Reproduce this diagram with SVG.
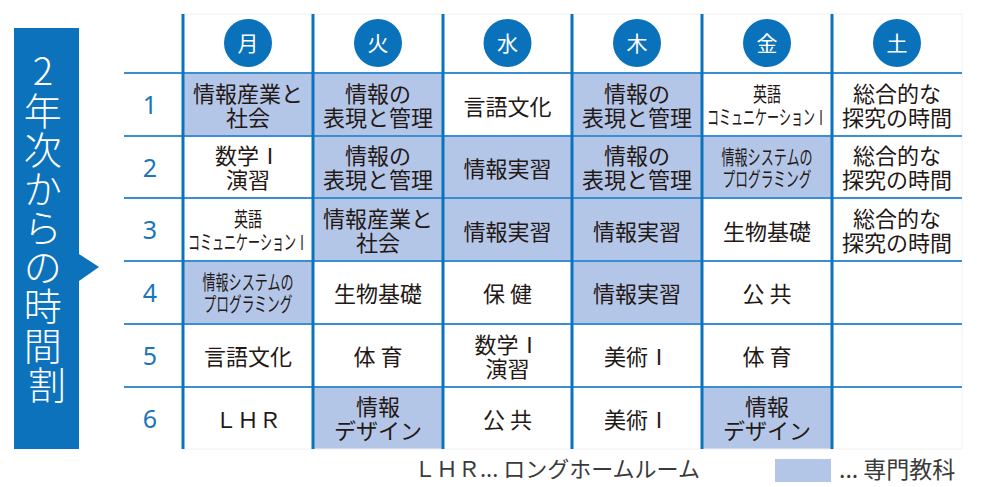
<svg xmlns="http://www.w3.org/2000/svg" width="984" height="487" viewBox="0 0 984 487">
<style>
text { font-family: "Noto Sans CJK JP", "Noto Sans", sans-serif; }
.t { font-size: 22px; fill: #231815; text-anchor: middle; }
.s { font-size: 20.5px; fill: #231815; text-anchor: middle; }
.num { font-family: "Noto Sans", "Open Sans", sans-serif; font-size: 25px; fill: #1a75bc; text-anchor: middle; }
.day { font-size: 21px; fill: #ffffff; text-anchor: middle; }
.circ { fill: #0a71bb; }
.shade { fill: #b4c6e7; }
.hl { stroke: #3a8fd3; stroke-width: 2; }
.vl { stroke: #0b73be; stroke-width: 3; }
.title { font-size: 38px; fill: #ffffff; text-anchor: middle; font-weight: 300; }
.leg { font-size: 22px; fill: #3a3a3a; }
</style>

<g id="title">
  <rect x="14" y="28" width="65" height="421" fill="#0b72bb"/>
  <polygon points="79,254 99,267 79,281" fill="#0b72bb"/>
  <text class="title">
    <tspan x="47" y="85">2</tspan>
    <tspan x="47" y="125">年</tspan>
    <tspan x="47" y="164">次</tspan>
    <tspan x="47" y="203">か</tspan>
    <tspan x="47" y="242">ら</tspan>
    <tspan x="47" y="281">の</tspan>
    <tspan x="47" y="320">時</tspan>
    <tspan x="47" y="360">間</tspan>
    <tspan x="47" y="399">割</tspan>
  </text>
</g>

<g id="shading">
  <rect class="shade" x="183" y="73" width="130" height="63"/>
  <rect class="shade" x="313" y="73" width="130" height="63"/>
  <rect class="shade" x="572" y="73" width="130" height="63"/>
  <rect class="shade" x="313" y="136" width="130" height="62"/>
  <rect class="shade" x="443" y="136" width="129" height="62"/>
  <rect class="shade" x="572" y="136" width="130" height="62"/>
  <rect class="shade" x="702" y="136" width="130" height="62"/>
  <rect class="shade" x="313" y="198" width="130" height="63"/>
  <rect class="shade" x="443" y="198" width="129" height="63"/>
  <rect class="shade" x="572" y="198" width="130" height="63"/>
  <rect class="shade" x="183" y="261" width="130" height="63"/>
  <rect class="shade" x="572" y="261" width="130" height="63"/>
  <rect class="shade" x="313" y="387" width="130" height="62"/>
  <rect class="shade" x="702" y="387" width="130" height="62"/>
</g>

<g id="grid">
  <rect x="183" y="14" width="779" height="435" fill="none" stroke="#f0f0f0" stroke-width="1"/>
  <line class="hl" x1="124" y1="73" x2="962" y2="73"/>
  <line class="hl" x1="124" y1="136" x2="962" y2="136"/>
  <line class="hl" x1="124" y1="198" x2="962" y2="198"/>
  <line class="hl" x1="124" y1="261" x2="962" y2="261"/>
  <line class="hl" x1="124" y1="324" x2="962" y2="324"/>
  <line class="hl" x1="124" y1="387" x2="962" y2="387"/>
  <line class="vl" x1="183" y1="14" x2="183" y2="449"/>
  <line class="vl" x1="313" y1="14" x2="313" y2="449"/>
  <line class="vl" x1="443" y1="14" x2="443" y2="449"/>
  <line class="vl" x1="572" y1="14" x2="572" y2="449"/>
  <line class="vl" x1="702" y1="14" x2="702" y2="449"/>
  <line class="vl" x1="832" y1="14" x2="832" y2="449"/>
</g>

<g id="days">
  <g id="day-mon"><circle class="circ" cx="248" cy="43" r="24"/><text class="day" x="248" y="51">月</text></g>
  <g id="day-tue"><circle class="circ" cx="378" cy="43" r="24"/><text class="day" x="378" y="51">火</text></g>
  <g id="day-wed"><circle class="circ" cx="507.5" cy="43" r="24"/><text class="day" x="507.5" y="51">水</text></g>
  <g id="day-thu"><circle class="circ" cx="637" cy="43" r="24"/><text class="day" x="637" y="51">木</text></g>
  <g id="day-fri"><circle class="circ" cx="767" cy="43" r="24"/><text class="day" x="767" y="51">金</text></g>
  <g id="day-sat"><circle class="circ" cx="897" cy="43" r="24"/><text class="day" x="897" y="51">土</text></g>
</g>

<g id="periods">
  <text class="num" x="150" y="114">1</text>
  <text class="num" x="150" y="177">2</text>
  <text class="num" x="150" y="239">3</text>
  <text class="num" x="150" y="302">4</text>
  <text class="num" x="150" y="365">5</text>
  <text class="num" x="150" y="428">6</text>
</g>

<g id="row1">
  <g id="r1-mon"><text class="t"><tspan x="248" y="101.5">情報産業と</tspan><tspan x="248" y="125.5">社会</tspan></text></g>
  <g id="r1-tue"><text class="t"><tspan x="378" y="101.5">情報の</tspan><tspan x="378" y="125.5">表現と管理</tspan></text></g>
  <g id="r1-wed"><text class="t" x="507.5" y="114.5">言語文化</text></g>
  <g id="r1-thu"><text class="t"><tspan x="637" y="101.5">情報の</tspan><tspan x="637" y="125.5">表現と管理</tspan></text></g>
  <g id="r1-fri"><text class="s"><tspan x="767" y="101.5" textLength="28" lengthAdjust="spacingAndGlyphs">英語</tspan><tspan x="767" y="124.5" textLength="120" lengthAdjust="spacingAndGlyphs">コミュニケーションⅠ</tspan></text></g>
  <g id="r1-sat"><text class="t"><tspan x="897" y="101.5">総合的な</tspan><tspan x="897" y="125.5">探究の時間</tspan></text></g>
</g>

<g id="row2">
  <g id="r2-mon"><text class="t"><tspan x="248" y="164">数学Ⅰ</tspan><tspan x="248" y="188">演習</tspan></text></g>
  <g id="r2-tue"><text class="t"><tspan x="378" y="164">情報の</tspan><tspan x="378" y="188">表現と管理</tspan></text></g>
  <g id="r2-wed"><text class="t" x="507.5" y="177">情報実習</text></g>
  <g id="r2-thu"><text class="t"><tspan x="637" y="164">情報の</tspan><tspan x="637" y="188">表現と管理</tspan></text></g>
  <g id="r2-fri"><text class="s"><tspan x="767" y="164.5" textLength="91" lengthAdjust="spacingAndGlyphs">情報システムの</tspan><tspan x="767" y="186.5" textLength="89" lengthAdjust="spacingAndGlyphs">プログラミング</tspan></text></g>
  <g id="r2-sat"><text class="t"><tspan x="897" y="164">総合的な</tspan><tspan x="897" y="188">探究の時間</tspan></text></g>
</g>

<g id="row3">
  <g id="r3-mon"><text class="s"><tspan x="248" y="226.5" textLength="28" lengthAdjust="spacingAndGlyphs">英語</tspan><tspan x="248" y="249.5" textLength="120" lengthAdjust="spacingAndGlyphs">コミュニケーションⅠ</tspan></text></g>
  <g id="r3-tue"><text class="t"><tspan x="378" y="226.5">情報産業と</tspan><tspan x="378" y="250.5">社会</tspan></text></g>
  <g id="r3-wed"><text class="t" x="507.5" y="239.5">情報実習</text></g>
  <g id="r3-thu"><text class="t" x="637" y="239.5">情報実習</text></g>
  <g id="r3-fri"><text class="t" x="767" y="239.5">生物基礎</text></g>
  <g id="r3-sat"><text class="t"><tspan x="897" y="226.5">総合的な</tspan><tspan x="897" y="250.5">探究の時間</tspan></text></g>
</g>

<g id="row4">
  <g id="r4-mon"><text class="s"><tspan x="248" y="290" textLength="91" lengthAdjust="spacingAndGlyphs">情報システムの</tspan><tspan x="248" y="312" textLength="89" lengthAdjust="spacingAndGlyphs">プログラミング</tspan></text></g>
  <g id="r4-tue"><text class="t" x="378" y="302">生物基礎</text></g>
  <g id="r4-wed"><text class="t" x="507.5" y="302">保 健</text></g>
  <g id="r4-thu"><text class="t" x="637" y="302">情報実習</text></g>
  <g id="r4-fri"><text class="t" x="767" y="302">公 共</text></g>
</g>

<g id="row5">
  <g id="r5-mon"><text class="t" x="248" y="365">言語文化</text></g>
  <g id="r5-tue"><text class="t" x="378" y="365">体 育</text></g>
  <g id="r5-wed"><text class="t"><tspan x="507.5" y="353">数学Ⅰ</tspan><tspan x="507.5" y="376.5">演習</tspan></text></g>
  <g id="r5-thu"><text class="t" x="637" y="365">美術Ⅰ</text></g>
  <g id="r5-fri"><text class="t" x="767" y="365">体 育</text></g>
</g>

<g id="row6">
  <g id="r6-mon"><text class="t" x="248" y="428">ＬＨＲ</text></g>
  <g id="r6-tue"><text class="t"><tspan x="378" y="415">情報</tspan><tspan x="378" y="439">デザイン</tspan></text></g>
  <g id="r6-wed"><text class="t" x="507.5" y="428">公 共</text></g>
  <g id="r6-thu"><text class="t" x="637" y="428">美術Ⅰ</text></g>
  <g id="r6-fri"><text class="t"><tspan x="767" y="415">情報</tspan><tspan x="767" y="439">デザイン</tspan></text></g>
</g>

<g id="legend">
  <text class="leg" x="414" y="477">ＬＨＲ... ロングホームルーム</text>
  <rect class="shade" x="775" y="459" width="56" height="23"/>
  <text class="leg" x="839" y="478" style="font-size:23px">... 専門教科</text>
</g>
</svg>
